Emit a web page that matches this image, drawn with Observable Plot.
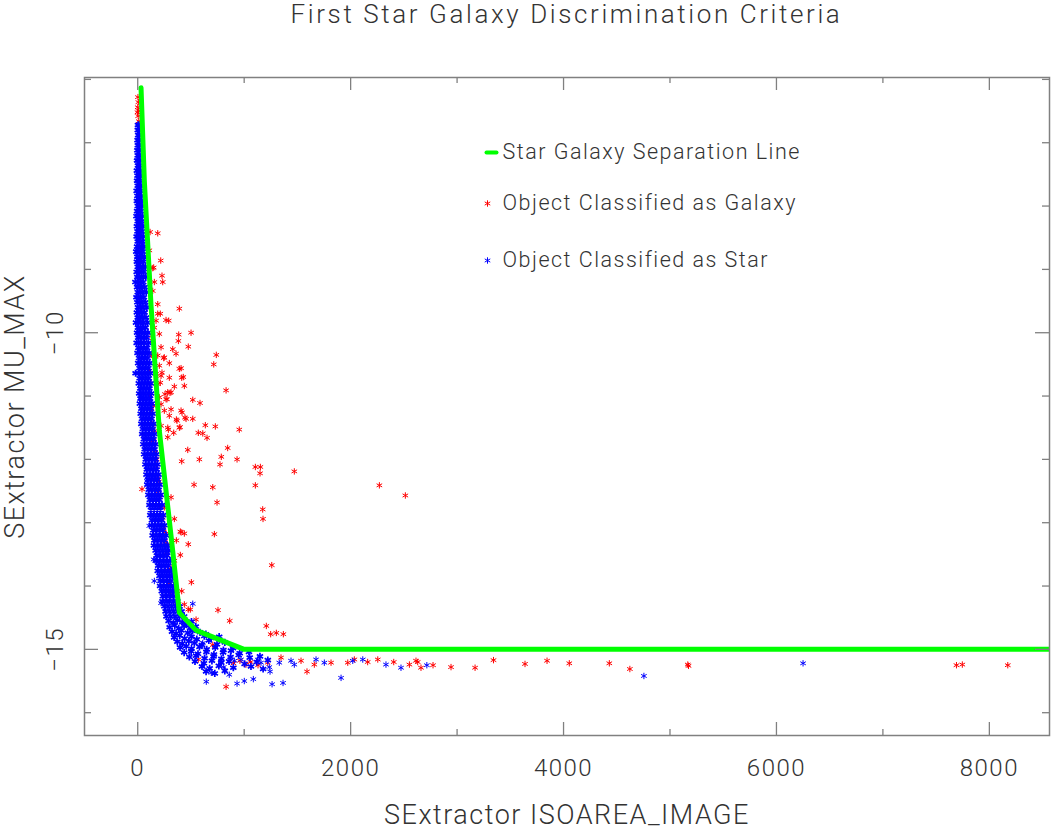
<!DOCTYPE html>
<html><head><meta charset="utf-8">
<script src="https://cdn.jsdelivr.net/npm/d3@7"></script>
<script src="https://cdn.jsdelivr.net/npm/@observablehq/plot@0.6"></script>
<style>
body{margin:0;background:#fff;}
#title{height:40px;padding:0 3px 0 84px;box-sizing:border-box;text-align:center;font:300 26px Roboto, "DejaVu Sans", sans-serif;color:#333;line-height:28px;letter-spacing:2.6px;}
#chart svg text{letter-spacing:1.5px;}
</style></head><body>
<div id="title">First Star Galaxy Discrimination Criteria</div>
<div id="chart"></div>
<script>
// ---- data ----
const chartTitle = "First Star Galaxy Discrimination Criteria";
const xLabel = "SExtractor ISOAREA_IMAGE";
const yLabel = "SExtractor MU_MAX";
const legendLabels = ["Star Galaxy Separation Line", "Object Classified as Galaxy", "Object Classified as Star"];
const xMajorTicks = [0, 2000, 4000, 6000, 8000];
const xMinorTicks = [1000, 3000, 5000, 7000];
const yMajorTicks = [-10, -15];
const yMinorTicks = [-6, -7, -8, -9, -11, -12, -13, -14, -16];
const xDomain = [-500, 8565];
const yDomain = [-16.36, -5.97];

// separation line vertices [ISOAREA, MU_MAX]
const separationLine = [[31,-6.13],[62,-7.60],[125,-9.57],[203,-11.55],[329,-13.45],[391,-14.42],[548,-14.70],[1000,-15.0],[8565,-15.0]];

// galaxies [ISOAREA, MU_MAX]
const galaxies = [
[2,-6.28],[6,-6.36],[0,-6.44],[8,-6.5],[4,-6.58],[10,-6.66],[-2,-6.52],[12,-6.72],[6,-6.8],
[116,-8.41],[188,-8.43],[109,-8.70],[216,-8.86],[141,-8.98],[150,-8.97],[228,-9.10],[235,-9.20],[156,-9.20],[141,-9.34],[188,-9.55],[391,-9.62],[188,-9.70],[212,-9.70],[172,-9.81],[291,-9.81],[266,-9.80],[156,-9.92],[203,-10.02],[385,-10.03],[501,-10.0],[382,-10.13],[141,-10.13],[219,-10.23],[329,-10.26],[475,-10.22],[360,-10.33],[738,-10.35],[714,-10.50],[188,-10.36],[250,-10.39],[244,-10.40],[203,-10.52],[297,-10.48],[391,-10.57],[407,-10.56],[413,-10.71],[172,-10.65],[228,-10.63],[219,-10.68],[297,-10.71],[428,-10.70],[438,-10.84],[188,-10.81],[212,-10.79],[344,-10.85],[830,-10.91],[282,-10.94],[313,-10.94],[303,-10.95],[256,-10.97],[203,-11.02],[266,-11.05],[275,-11.05],[517,-11.06],[585,-11.11],[219,-11.13],[313,-11.21],[407,-11.23],[250,-11.23],[416,-11.26],[297,-11.31],[444,-11.34],[517,-11.36],[454,-11.36],[363,-11.37],[369,-11.39],[219,-11.47],[635,-11.46],[729,-11.48],[397,-11.49],[282,-11.50],[391,-11.50],[288,-11.53],[954,-11.53],[338,-11.58],[569,-11.58],[611,-11.59],[282,-11.65],[651,-11.66],[470,-11.85],[845,-11.82],[785,-11.96],[579,-12.00],[933,-12.00],[413,-12.03],[773,-12.08],[1105,-12.12],[1152,-12.12],[1149,-12.22],[1471,-12.19],[529,-12.40],[705,-12.44],[1105,-12.41],[40,-12.47],[2270,-12.41],[2514,-12.57],[210,-12.60],[313,-12.60],[745,-12.68],[250,-12.76],[1174,-12.79],[1177,-12.94],[344,-12.94],[235,-12.92],[720,-13.18],[400,-13.14],[438,-13.17],[407,-13.15],[266,-13.17],[363,-13.28],[475,-13.34],[275,-13.34],[400,-13.51],[344,-13.60],[1259,-13.67],[313,-13.71],[504,-13.94],[413,-14.08],[438,-14.29],[475,-14.37],[494,-14.37],[754,-14.38],[548,-14.53],[864,-14.55],[1208,-14.63],[1249,-14.76],[1302,-14.74],[1368,-14.76],[705,-14.93],
[110,-10.6],[125,-10.8],[118,-11.0],[130,-11.2],[140,-11.45],[150,-11.7],[165,-11.9],[170,-12.1],[185,-12.3],[195,-12.5],[210,-12.75],[225,-12.95],[240,-13.1],[255,-13.3],[270,-13.5],[285,-13.75],[300,-13.95],[320,-14.1],[340,-14.25],[135,-10.05],[128,-10.35],[145,-11.15],[160,-11.55],[180,-12.0],[200,-12.35],
[569,-15.16],[830,-15.59],[1590,-15.35],[1017,-15.24],[1221,-15.21],[1346,-15.13],[1534,-15.18],[1659,-15.24],[1816,-15.21],[1973,-15.21],[2035,-15.16],[2160,-15.20],[2255,-15.16],[2405,-15.20],[2552,-15.24],[2614,-15.18],[2630,-15.20],[2661,-15.29],[2774,-15.25],[2943,-15.28],[3169,-15.29],[3342,-15.17],[3638,-15.23],[3845,-15.18],[4054,-15.22],[4430,-15.22],[4623,-15.31],[5167,-15.24],[5174,-15.26],[7691,-15.25],[7746,-15.24],[8173,-15.25],
[900,-15.22],[960,-15.18],[1060,-15.20],[1130,-15.25]
];

// stars: dense band, each row = [MU_MAX, ISOAREA values...]
const starBand = [
[-6.72,2,10],[-6.80,0,12],[-6.88,4,14],[-6.96,-2,9,16],[-7.04,1,12],[-7.12,-4,7,18],[-7.20,0,14],[-7.28,-6,5,20],[-7.36,2,16],[-7.44,-8,8,24],
[-7.52,-2,14,28],[-7.60,-6,6,22],[-7.68,0,18,30],[-7.76,-10,8,26],[-7.84,-3,14,34],[-7.92,-8,6,24,38],[-8.00,0,16,40],[-8.08,-6,10,30],[-8.16,-12,4,22,44],[-8.24,0,14,36],
[-8.32,-8,8,28,48],[-8.40,-2,18,40],[-8.48,-10,6,30,54],[-8.56,0,20,44],[-8.64,-6,12,34,58],[-8.72,-14,2,24,48],[-8.80,-4,16,38,62],[-8.88,-8,8,28,52],[-8.96,0,20,44,70],[-9.04,-10,10,32,58],
[-9.12,-4,16,40,76],[-9.20,-22,4,26,52],[-9.28,-6,14,36,66],[-9.36,0,22,46,80],[-9.44,-12,8,30,58],[-9.52,-4,18,40,72],[-9.60,2,26,50,86],[-9.68,-8,12,34,64],[-9.76,0,20,44,78],[-9.84,-16,6,30,56,92],
[-9.92,2,24,48,74],[-10.00,-6,14,38,66,96],[-10.08,4,28,54,84],[-10.16,-10,10,36,62,100],[-10.24,6,30,58,88],[-10.32,-2,20,46,76,106],[-10.40,12,36,64,94],[-10.48,4,26,52,82,112],[-10.56,16,42,70,100],[-10.64,-20,8,32,60,90,118],
[-10.72,18,46,76,104],[-10.80,10,36,64,92,122],[-10.88,24,52,82,110],[-10.96,14,40,70,100,126],[-11.04,26,56,86,116],[-11.12,20,46,76,106,132],[-11.20,34,62,92,122],[-11.28,28,54,84,112,140],[-11.36,40,70,100,130],[-11.44,34,62,92,122,150],
[-11.52,48,78,108,140],[-11.60,42,70,100,130,158],[-11.68,58,86,116,148],[-11.76,52,80,110,140,168],[-11.84,66,96,126,158],[-11.92,60,90,120,150,176],[-12.00,76,106,136,168],[-12.08,72,100,130,160,186],[-12.16,86,116,146,178],[-12.24,82,110,140,170,196],
[-12.32,96,126,156,188],[-12.40,90,120,150,180,206],[-12.48,104,134,164,196],[-12.56,100,130,160,190,216],[-12.64,114,144,174,204],[-12.72,110,140,170,200,228],[-12.80,124,154,184,214],[-12.88,118,150,180,210,240],[-12.96,134,164,196,226],[-13.04,130,160,190,222,252],
[-13.12,146,176,208,238],[-13.20,140,172,204,236,266],[-13.28,156,188,220,252],[-13.36,152,184,216,248,280],[-13.44,168,200,232,264,292],[-13.52,180,212,244,276],[-13.60,176,208,240,272,304],[-13.68,192,224,256,288],[-13.76,188,220,252,284,316],[-13.84,204,236,268,300,330],
[-13.92,214,246,278,312],[-14.00,210,242,274,306,340],[-14.08,226,258,290,324,356],[-14.16,236,270,304,338],[-14.24,232,266,300,336,372],[-14.32,250,284,320,356,392],[-14.40,262,298,336,374,412],[-14.48,270,310,350,392,436]
];
// stars: lower bend of the band [ISOAREA, MU_MAX]
const starBend = [
[290,-14.55],[335,-14.58],[370,-14.54],[418,-14.57],[455,-14.6],[505,-14.56],
[300,-14.65],[348,-14.62],[385,-14.67],[436,-14.63],[492,-14.66],[545,-14.64],
[322,-14.72],[360,-14.75],[410,-14.70],[470,-14.74],[515,-14.71],[585,-14.73],[640,-14.76],
[342,-14.81],[395,-14.78],[440,-14.83],[505,-14.80],[555,-14.84],[625,-14.79],[690,-14.82],[765,-14.80],
[372,-14.88],[418,-14.91],[480,-14.87],[532,-14.90],[604,-14.93],[668,-14.86],[745,-14.92],[818,-14.89],
[398,-14.97],[455,-14.95],[505,-14.99],[580,-14.96],[648,-15.0],[728,-14.97],[805,-15.01],[895,-14.98],
[436,-15.05],[502,-15.03],[566,-15.07],[645,-15.04],[716,-15.08],[802,-15.05],[876,-15.02],[958,-15.06],[1045,-15.04],
[485,-15.12],[548,-15.10],[628,-15.14],[712,-15.11],[786,-15.15],[872,-15.12],[948,-15.09],[1052,-15.13],[1148,-15.11],
[538,-15.19],[622,-15.22],[697,-15.18],[784,-15.21],[858,-15.19],[1004,-15.23],[1118,-15.2],[1222,-15.17],
[604,-15.27],[676,-15.30],[762,-15.26],[898,-15.29],[1064,-15.27],[1178,-15.31],
[642,-15.35],[724,-15.38],[818,-15.34]
];
// stars: scattered [ISOAREA, MU_MAX]
const starScatter = [
[31,-11.02],[47,-11.26],[87,-12.34],[109,-13.05],[150,-13.58],[163,-13.60],[156,-13.92],[219,-14.27],[517,-14.28],[611,-14.90],
[644,-15.51],[691,-15.37],[933,-15.54],[1001,-15.50],[1086,-15.47],[1262,-15.55],[1365,-15.53],[1243,-15.35],[860,-15.40],[808,-15.28],[1910,-15.45],[1127,-15.16],[1158,-15.21],[1236,-15.28],[1330,-15.21],[1440,-15.18],[1471,-15.24],[1675,-15.16],[1753,-15.21],[2020,-15.18],[2114,-15.16],[2332,-15.24],[2473,-15.29],[2716,-15.25],[4755,-15.42],[6250,-15.22],[970,-15.16],[908,-15.18],[783,-15.18]
];

// ---- build ----
const bandStars = starBand.flatMap(([y, ...xs]) => xs.map(x => [x, y])).concat(starBend);
const W = 1052, H = 790, mT = 37, mB = 95, mL = 84, mR = 3;
const innerW = W - mL - mR, innerH = H - mT - mB;
const axisColor = "#808080";
const textColor = "#333";
const font = "Roboto, 'DejaVu Sans', sans-serif";
const minus = v => v < 0 ? "\u2212" + Math.abs(v) : String(v);
const dash = {draw(ctx) { ctx.moveTo(-5, 0); ctx.lineTo(5, 0); }};

const chart = Plot.plot({
  width: W, height: H,
  marginTop: mT, marginBottom: mB, marginLeft: mL, marginRight: mR,
  style: {fontFamily: font, fontWeight: 300, background: "#fff", overflow: "visible"},
  x: {domain: xDomain, axis: null},
  y: {domain: yDomain, axis: null},
  marks: [
    Plot.dot(galaxies, {x: d => d[0], y: d => d[1], symbol: "asterisk", r: 3, stroke: "#ff0000", strokeWidth: 1}),
    Plot.dot(bandStars, {x: d => d[0], y: d => d[1], symbol: "asterisk", r: 3.4, stroke: "#0000ff", strokeWidth: 1.7}),
    Plot.dot(starScatter, {x: d => d[0], y: d => d[1], symbol: "asterisk", r: 3, stroke: "#0000ff", strokeWidth: 1}),
    Plot.line(separationLine, {x: d => d[0], y: d => d[1], stroke: "#00ff00", strokeWidth: 5, strokeLinejoin: "round", strokeLinecap: "round", clip: true}),
    // inward ticks
    Plot.tickX(xMajorTicks, {x: d => d, insetTop: innerH - 13, stroke: axisColor, strokeWidth: 1.3}),
    Plot.tickX(xMajorTicks, {x: d => d, insetBottom: innerH - 13, stroke: axisColor, strokeWidth: 1.3}),
    Plot.tickX(xMinorTicks, {x: d => d, insetTop: innerH - 6, stroke: axisColor, strokeWidth: 1.3}),
    Plot.tickX(xMinorTicks, {x: d => d, insetBottom: innerH - 6, stroke: axisColor, strokeWidth: 1.3}),
    Plot.tickY(yMajorTicks, {y: d => d, insetRight: innerW - 14, stroke: axisColor, strokeWidth: 1.3}),
    Plot.tickY(yMajorTicks, {y: d => d, insetLeft: innerW - 14, stroke: axisColor, strokeWidth: 1.3}),
    Plot.tickY(yMinorTicks, {y: d => d, insetRight: innerW - 7, stroke: axisColor, strokeWidth: 1.3}),
    Plot.tickY(yMinorTicks, {y: d => d, insetLeft: innerW - 7, stroke: axisColor, strokeWidth: 1.3}),
    Plot.frame({stroke: axisColor, strokeWidth: 1.5}),
    // tick labels
    Plot.text(xMajorTicks, {x: d => d, frameAnchor: "bottom", dy: 33, text: d => minus(d), fontSize: 24, fill: textColor, textAnchor: "middle", lineAnchor: "middle"}),
    Plot.text(yMajorTicks, {y: d => d, frameAnchor: "left", dx: -29, rotate: -90, text: d => minus(d), fontSize: 24, fill: textColor, textAnchor: "middle", lineAnchor: "middle"}),
    // axis titles
    Plot.text([xLabel], {frameAnchor: "bottom", dy: 80, text: d => d, fontSize: 27, fill: textColor, textAnchor: "middle", lineAnchor: "middle"}),
    Plot.text([yLabel], {frameAnchor: "left", dx: -69, rotate: -90, text: d => d, fontSize: 27, fill: textColor, textAnchor: "middle", lineAnchor: "middle"}),
    // legend
    Plot.dot([legendLabels[0]], {frameAnchor: "top-left", dx: 407, dy: 75, symbol: dash, r: 3, stroke: "#00ff00", strokeWidth: 4, strokeLinecap: "round"}),
    Plot.dot([legendLabels[1]], {frameAnchor: "top-left", dx: 403, dy: 126, symbol: "asterisk", r: 3, stroke: "#ff0000", strokeWidth: 1}),
    Plot.dot([legendLabels[2]], {frameAnchor: "top-left", dx: 403, dy: 183, symbol: "asterisk", r: 3, stroke: "#0000ff", strokeWidth: 1}),
    Plot.text([legendLabels[0]], {frameAnchor: "top-left", dx: 418, dy: 75, text: d => d, fontSize: 21.5, fill: textColor, textAnchor: "start", lineAnchor: "middle"}),
    Plot.text([legendLabels[1]], {frameAnchor: "top-left", dx: 418, dy: 126, text: d => d, fontSize: 21.5, fill: textColor, textAnchor: "start", lineAnchor: "middle"}),
    Plot.text([legendLabels[2]], {frameAnchor: "top-left", dx: 418, dy: 183, text: d => d, fontSize: 21.5, fill: textColor, textAnchor: "start", lineAnchor: "middle"})
  ]
});
document.getElementById("chart").appendChild(chart);
</script></body></html>
